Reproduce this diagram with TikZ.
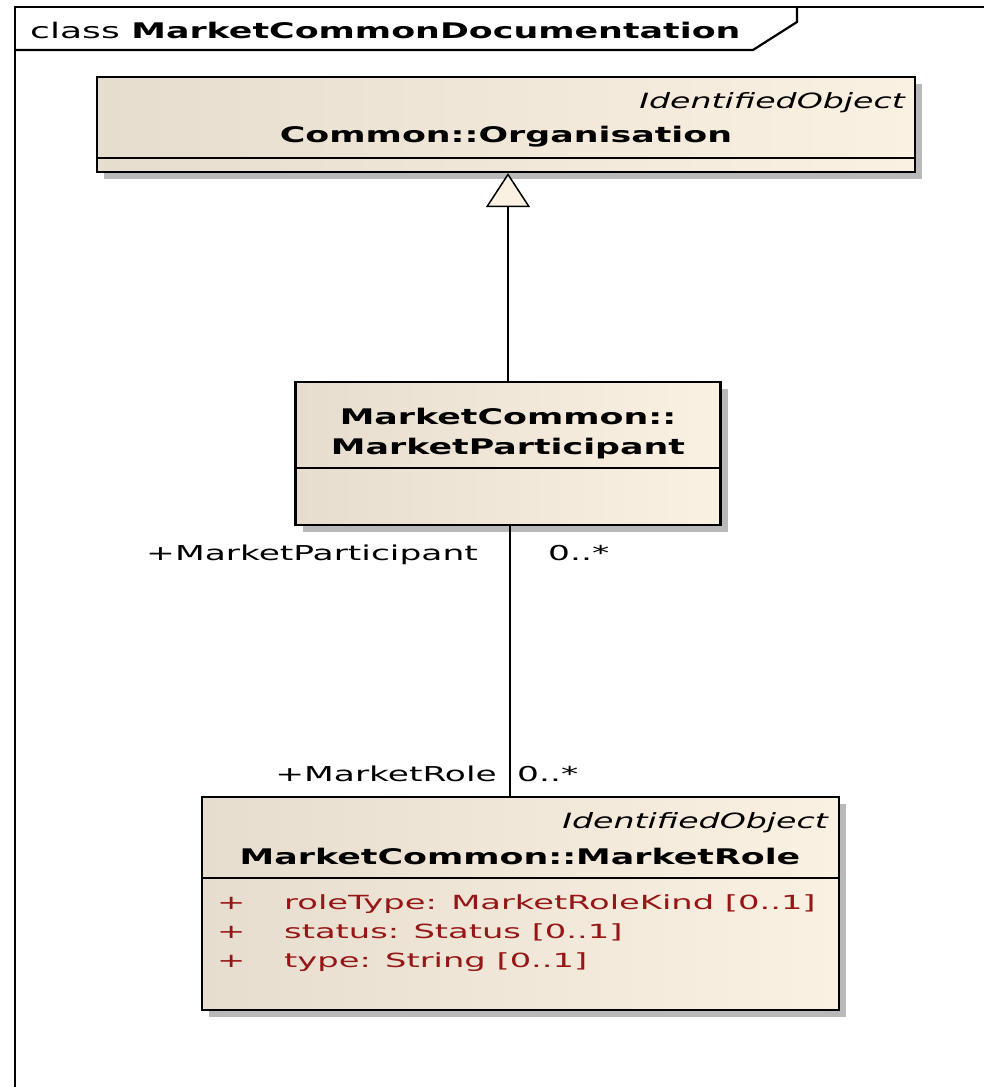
\documentclass[tikz,border=0pt]{standalone}
\usepackage{fontspec}
\setmainfont{DejaVu Sans}
% wide, tracked-looking faces used by the UML tool
\newfontfamily\fregular[FakeStretch=1.68]{DejaVu Sans}
\newfontfamily\fbold[FakeStretch=1.62]{DejaVu Sans Bold}
\newfontfamily\fitalic[FakeStretch=1.58]{DejaVu Sans Oblique}
\newfontfamily\fattr[FakeStretch=1.73]{DejaVu Sans}
\usetikzlibrary{shadows,arrows.meta}

\definecolor{boxleft}{RGB}{230,221,206}
\definecolor{boxright}{RGB}{251,241,226}
\definecolor{attrred}{RGB}{150,22,22}
\definecolor{shadowgray}{RGB}{185,185,185}

\tikzset{
  classbox/.style={draw=black, line width=2.2pt, rectangle, inner sep=0pt,
    left color=boxleft, right color=boxright,
    drop shadow={shadow xshift=7pt, shadow yshift=-7pt, fill=shadowgray, opacity=1}},
  sep/.style={line width=1.5pt},
  conn/.style={line width=2.2pt},
  gen/.style={conn, -{Triangle[open, fill=boxright, width=44pt, length=34pt, line width=1.5pt]}},
  stereo/.style={font=\fontsize{21}{24}\fitalic, inner sep=0pt, anchor=base east},
  cname/.style={font=\fontsize{21.5}{24}\fbold, inner sep=0pt, anchor=base},
  rolelabel/.style={font=\fontsize{20.5}{22}\fregular, inner sep=0pt},
  attr/.style={font=\fontsize{19.5}{22}\fattr, text=attrred, inner sep=0pt, anchor=base west},
}

\begin{document}
\begin{tikzpicture}[x=1pt, y=-1pt]
\useasboundingbox (0,0) rectangle (983,1087);
\fill[white] (0,0) rectangle (983,1087);

% diagram frame and name tab
\draw[line width=2.2pt] (15,1090) -- (15,7) -- (990,7);
\draw[line width=2.2pt] (15,50) -- (753,50) -- (797,22) -- (797,7);
\node[inner sep=0pt, anchor=base west] (title) at (30,38)
  {\fontsize{21.5}{24}\fregular class \fbold MarketCommonDocumentation};

% Common::Organisation
\node[classbox, minimum width=818pt, minimum height=95pt] (org) at (506,124.5) {};
\draw[sep] (97,158) -- (915,158);
\node[stereo] (orgst) at (905,108) {IdentifiedObject};
\node[cname] (orgname) at (506,142) {Common::Organisation};

% MarketCommon::MarketParticipant
\node[classbox, minimum width=425pt, minimum height=143pt] (mp) at (508,453.5) {};
\draw[sep] (295,468) -- (721,468);
\node[cname] (mpname1) at (508,424) {MarketCommon::};
\node[cname] (mpname2) at (508,454) {MarketParticipant};

% MarketCommon::MarketRole
\node[classbox, minimum width=637pt, minimum height=213pt] (mr) at (520.5,903.5) {};
\draw[sep] (202,878) -- (839,878);
\node[stereo] (mrst) at (828,828) {IdentifiedObject};
\node[cname] (mrname) at (520,864) {MarketCommon::MarketRole};
\node[attr] (p1) at (217,909) {+};
\node[attr] (a1) at (284,909) {roleType: MarketRoleKind [0..1]};
\node[attr] (p2) at (217,938) {+};
\node[attr] (a2) at (284,938) {status: Status [0..1]};
\node[attr] (p3) at (217,967) {+};
\node[attr] (a3) at (284,967) {type: String [0..1]};

% generalization and association
\draw[gen] (mp.north) -- (mp.north |- org.south);
\draw[conn] ([xshift=2pt]mp.south) -- ([xshift=2pt]mp.south |- mr.north);

% association end labels
\node[rolelabel, anchor=base east] (rp) at (478,560) {+MarketParticipant};
\node[rolelabel, anchor=base west] (mp1) at (548,560) {0..*};
\node[rolelabel, anchor=base east] (rr) at (497,781) {+MarketRole};
\node[rolelabel, anchor=base west] (mr1) at (517,781) {0..*};
\end{tikzpicture}
\end{document}
